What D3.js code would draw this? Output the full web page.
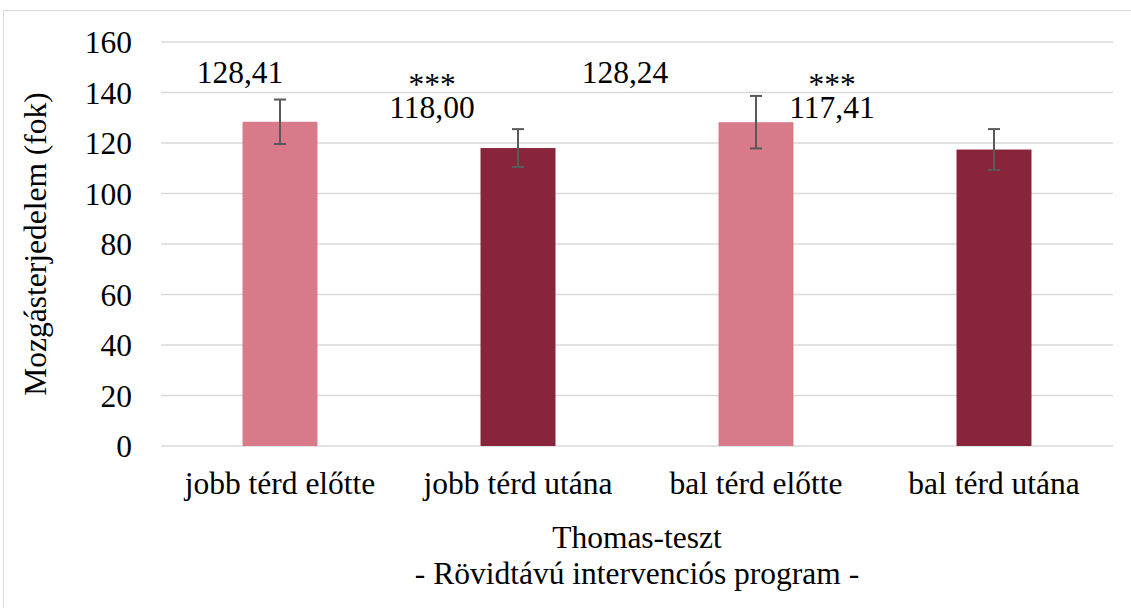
<!DOCTYPE html>
<html><head><meta charset="utf-8">
<script src="https://cdn.jsdelivr.net/npm/d3@7"></script>
</head><body style="margin:0">
<svg id="c" width="1131" height="608" font-family="Liberation Serif"></svg>
<script>
const categories = ["jobb térd előtte","jobb térd utána","bal térd előtte","bal térd utána"];
const values = [128.41,118.00,128.24,117.41];
const errors = [8.8,7.5,10.4,8.1];
const valueLabels = ["128,41","118,00","128,24","117,41"];
const sigMarks = ["","***","","***"];
const colors = ["#D97A8B","#88253A","#D97A8B","#88253A"];
const yTicks = [0,20,40,60,80,100,120,140,160];
const yTitle = "Mozgásterjedelem (fok)";
const xTitle1 = "Thomas-teszt";
const xTitle2 = "- Rövidtávú intervenciós program -";

(function(){
const fs = 31.5;
const ff = "Liberation Serif";
const svg = d3.select("#c");
svg.append("rect").attr("x",3.5).attr("y",10.5).attr("width",1140).attr("height",620)
  .attr("fill","#fff").attr("stroke","#d9d9d9").attr("stroke-width",1);

const pl=161,pr=1113,pt=42,pb=446;
const x = d3.scaleBand().domain(categories).range([pl,pr]).paddingInner(0.685).paddingOuter(0.3425);
const y = d3.scaleLinear().domain([0,160]).range([pb,pt]);

svg.append("g").selectAll("line").data(yTicks).join("line")
  .attr("x1",pl).attr("x2",pr).attr("y1",d=>y(d)).attr("y2",d=>y(d))
  .attr("stroke","#d9d9d9").attr("stroke-width",1.5);

const yAxis = d3.axisLeft(y).tickValues(yTicks).tickSize(0).tickPadding(0);
const ga = svg.append("g").attr("transform",`translate(${pl-29},0)`).call(yAxis);
ga.attr("font-family",ff).attr("font-size",fs);
ga.select(".domain").remove();
ga.selectAll("text").attr("font-family",ff).attr("font-size",fs).attr("fill","#000").attr("dy","0.34em");

svg.append("g").selectAll("rect").data(values).join("rect")
  .attr("x",(d,i)=>x(categories[i])).attr("width",x.bandwidth())
  .attr("y",d=>y(d)).attr("height",d=>pb-y(d)).attr("fill",(d,i)=>colors[i]);

const eg = svg.append("g").attr("stroke","#595959").attr("stroke-width",2);
values.forEach((v,i)=>{
  const cx = x(categories[i])+x.bandwidth()/2;
  const e = errors[i];
  eg.append("line").attr("x1",cx).attr("x2",cx).attr("y1",y(v+e)).attr("y2",y(v-e));
  eg.append("line").attr("x1",cx-6).attr("x2",cx+6).attr("y1",y(v+e)).attr("y2",y(v+e));
  eg.append("line").attr("x1",cx-6).attr("x2",cx+6).attr("y1",y(v-e)).attr("y2",y(v-e));
});

const labelX = [240,432,625,832];
const labelY = [83,118,83,118];
svg.append("g").selectAll("text").data(valueLabels).join("text")
  .attr("x",(d,i)=>labelX[i]).attr("y",(d,i)=>labelY[i]).attr("text-anchor","middle")
  .attr("font-family",ff).attr("font-size",fs).text(d=>d);
svg.append("g").selectAll("text").data(sigMarks).join("text")
  .attr("x",(d,i)=>labelX[i]).attr("y",95).attr("text-anchor","middle")
  .attr("font-family",ff).attr("font-size",fs).text(d=>d);

const xAxis = d3.axisBottom(x).tickSize(0).tickPadding(0);
const gx = svg.append("g").attr("transform",`translate(0,${pb})`).call(xAxis);
gx.attr("font-family",ff).attr("font-size",fs);
gx.select(".domain").remove();
gx.selectAll("text").attr("font-family",ff).attr("font-size",fs).attr("fill","#000").attr("dy",0).attr("y",48);

svg.append("text").attr("transform","translate(46,244) rotate(-90)").attr("text-anchor","middle")
  .attr("font-family",ff).attr("font-size",fs).text(yTitle);
svg.append("text").attr("x",637).attr("y",548).attr("text-anchor","middle")
  .attr("font-family",ff).attr("font-size",fs).text(xTitle1);
svg.append("text").attr("x",637).attr("y",584).attr("text-anchor","middle")
  .attr("font-family",ff).attr("font-size",fs).text(xTitle2);
})();
</script>
</body></html>
